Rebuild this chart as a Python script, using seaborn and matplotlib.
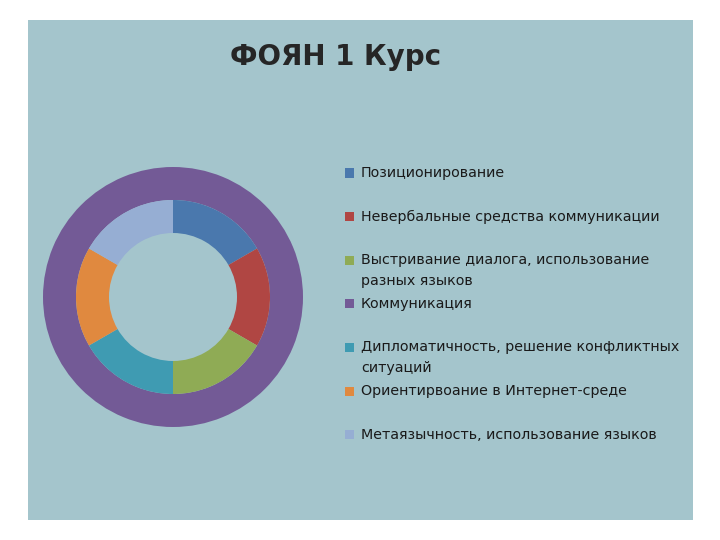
import numpy as np
import matplotlib
matplotlib.use("Agg")
import matplotlib.pyplot as plt
from matplotlib.patches import Rectangle
import seaborn as sns

# Data ================================================================================================================

categories = [
    "Позиционирование",
    "Невербальные средства коммуникации",
    "Выстривание диалога, использование\nразных языков",
    "Коммуникация",
    "Дипломатичность, решение конфликтных\nситуаций",
    "Ориентирвоание в Интернет-среде",
    "Метаязычность, использование языков",
]
outer_values = [0, 0, 0, 1, 0, 0, 0]
inner_values = [1, 1, 1, 0, 1, 1, 1]
title = "ФОЯН 1 Курс"

colors = ["#4a78ad", "#b04643", "#8fab55", "#735a96", "#3f9bb2", "#e0893f", "#96aed3"]
panel_color = "#a4c5cc"

# Plot ================================================================================================================

sns.set_theme(style="white")
plt.rcParams["font.family"] = ["DejaVu Sans"]

W, H = 720, 540
fig = plt.figure(figsize=(7.2, 5.4), dpi=100)
fig.patch.set_facecolor("white")

#### slide panel
fig.patches.append(Rectangle((28 / W, 1 - 520 / H), 665 / W, 500 / H, transform=fig.transFigure,
                             facecolor=panel_color, edgecolor="none", zorder=-10))

#### donut
cx, cy, half = 173, 297, 140
ax = fig.add_axes([(cx - half) / W, 1 - (cy + half) / H, 2 * half / W, 2 * half / H])
ax.set_zorder(5)
ax.set_facecolor("none")
ring = 33
ax.pie(outer_values, radius=130, colors=colors, startangle=90, counterclock=False,
       wedgeprops=dict(width=ring, linewidth=0))
ax.pie(inner_values, radius=130 - ring, colors=colors, startangle=90, counterclock=False,
       wedgeprops=dict(width=ring, linewidth=0))
ax.set_xlim(-half, half)
ax.set_ylim(-half, half)
ax.set_aspect("equal")
ax.axis("off")

#### title
fig.text(336 / W, 1 - 57 / H, title, ha="center", va="center", fontsize=20,
         fontweight="bold", color="#262626")

#### legend
y0, step = 173, 43.6
for i, (label, c) in enumerate(zip(categories, colors)):
    y = y0 + i * step
    fig.patches.append(Rectangle((345 / W, 1 - (y + 4.5) / H), 9 / W, 9 / H, transform=fig.transFigure,
                                 facecolor=c, edgecolor="none"))
    fig.text(361 / W, 1 - (y - 7) / H, label, ha="left", va="top", fontsize=10.3,
             color="#1a1a1a", linespacing=1.62)

fig.savefig("out.png", dpi=100, facecolor=fig.get_facecolor())
